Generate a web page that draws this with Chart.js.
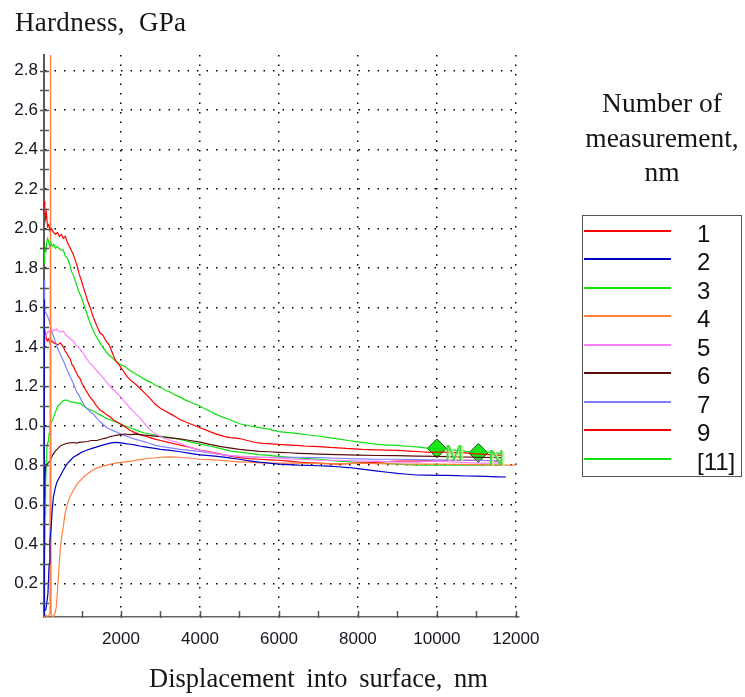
<!DOCTYPE html>
<html>
<head>
<meta charset="utf-8">
<title>Hardness vs displacement</title>
<script src="https://cdn.jsdelivr.net/npm/chart.js@4"></script>
<style>
  html, body { margin: 0; padding: 0; background: #fff; }
  #wrap { position: relative; width: 745px; height: 697px; overflow: hidden; }
  #myChart { position: absolute; left: 0; top: 0; }
  .txt { position: absolute; color: #161616; font-family: "Liberation Serif", "Times New Roman", serif; white-space: nowrap; }
  #ytitle { left: 15px; top: 9px; font-size: 27px; line-height: 27px; word-spacing: 7px; letter-spacing: 0.3px; }
  #xtitle { left: 149px; top: 665px; font-size: 26.5px; line-height: 26.5px; word-spacing: 5px; }
  #legtitle { left: 582px; width: 160px; top: 86px; text-align: center; font-size: 27.5px; line-height: 34.5px; }
  #legend { position: absolute; left: 582px; top: 215px; width: 160px; height: 262px; border: 1.5px solid #555; box-sizing: border-box; }
  #legend .row { position: absolute; left: 0; height: 0; }
  #legend .swatch { position: absolute; left: 0.5px; top: -1px; width: 87px; height: 2px; }
  #legend .lab { position: absolute; left: 114px; top: -11px; font: 24px "Liberation Sans", Arial, sans-serif; line-height: 28px; color: #111; }
</style>
</head>
<body>
<div id="wrap">
  <canvas id="myChart" width="745" height="697"></canvas>
  <div class="txt" id="ytitle">Hardness, GPa</div>
  <div class="txt" id="xtitle">Displacement into surface, nm</div>
  <div class="txt" id="legtitle">Number of<br>measurement,<br>nm</div>
  <div id="legend"></div>
</div>
<script>
// legend entries and colours
const seriesNames = ["1", "2", "3", "4", "5", "6", "7", "9", "[11]"];
const seriesColors = ["#ff0000", "#0000c8", "#10e010", "#ff8040", "#ff80ff", "#5a0c0c", "#8080ff", "#ff0000", "#10e010"];

// axis ticks
const xTicks = [1000, 2000, 3000, 4000, 5000, 6000, 7000, 8000, 9000, 10000, 11000, 12000];
const yTicks = [0.1, 0.2, 0.3, 0.4, 0.5, 0.6, 0.7, 0.8, 0.9, 1.0, 1.1, 1.2, 1.3, 1.4,
  1.5, 1.6, 1.7, 1.8, 1.9, 2.0, 2.1, 2.2, 2.3, 2.4, 2.5, 2.6, 2.7, 2.8];

// [displacement nm, hardness GPa]
const hard1 = [[50,2.14],[70,2.10],[90,2.05],[110,2.08],[140,2.01],[170,2.02],[200,1.99],[240,2.00],[290,1.98],[340,1.97],[390,1.98],[440,1.96],[490,1.97],[540,1.95],[590,1.96],[640,1.93],[690,1.91],[740,1.89],[790,1.87],[840,1.84],[890,1.81],[940,1.77],[990,1.74],[1050,1.70],[1100,1.67],[1160,1.63],[1220,1.60],[1280,1.56],[1340,1.53],[1400,1.50],[1470,1.47],[1540,1.46],[1620,1.43],[1700,1.41],[1780,1.37],[1860,1.33],[1950,1.31],[2050,1.28],[2150,1.25],[2250,1.23],[2370,1.21],[2480,1.19],[2600,1.165],[2730,1.14],[2860,1.11],[2990,1.09],[3120,1.075],[3250,1.06],[3380,1.045],[3500,1.03],[3630,1.02],[3750,1.01],[3880,1.0],[4000,0.99],[4130,0.98],[4250,0.97],[4380,0.96],[4500,0.952],[4630,0.945],[4760,0.94],[4900,0.937],[5010,0.935],[5200,0.925],[5400,0.915],[5600,0.91],[5800,0.908],[6000,0.905],[6200,0.903],[6450,0.90],[6700,0.896],[6900,0.895],[7100,0.893],[7300,0.89],[7500,0.888],[7700,0.885],[7900,0.883],[8100,0.88],[8300,0.879],[8500,0.878],[8750,0.876],[9000,0.875],[9200,0.872],[9400,0.87],[9600,0.868],[9800,0.865],[10000,0.866],[10200,0.866],[10450,0.864],[10700,0.862],[10950,0.858],[11200,0.855],[11450,0.852],[11650,0.85]];
const hard2 = [[50,0.04],[55,1.64],[62,0.06],[100,0.07],[150,0.15],[180,0.30],[200,0.42],[230,0.48],[260,0.58],[290,0.64],[330,0.68],[370,0.71],[420,0.73],[460,0.745],[500,0.76],[540,0.775],[600,0.795],[650,0.81],[720,0.825],[790,0.84],[860,0.848],[930,0.856],[1000,0.865],[1080,0.872],[1160,0.878],[1250,0.884],[1350,0.89],[1470,0.898],[1560,0.903],[1650,0.908],[1750,0.913],[1850,0.916],[1950,0.914],[2050,0.912],[2150,0.908],[2250,0.906],[2370,0.902],[2480,0.897],[2600,0.893],[2730,0.889],[2860,0.885],[3000,0.88],[3250,0.875],[3500,0.868],[3750,0.86],[4000,0.852],[4250,0.848],[4500,0.843],[4750,0.837],[5000,0.83],[5250,0.822],[5500,0.815],[5750,0.81],[6000,0.805],[6250,0.803],[6500,0.80],[6750,0.799],[7000,0.797],[7250,0.795],[7500,0.792],[7750,0.788],[8000,0.782],[8250,0.776],[8500,0.77],[8750,0.764],[9000,0.758],[9250,0.754],[9500,0.75],[9750,0.749],[10000,0.748],[10250,0.748],[10500,0.747],[10750,0.745],[11000,0.744],[11250,0.743],[11500,0.741],[11750,0.74]];
const hard3 = [[50,1.82],[65,1.87],[80,1.90],[100,1.88],[120,1.93],[140,1.95],[160,1.94],[190,1.91],[220,1.93],[260,1.91],[300,1.92],[340,1.90],[380,1.91],[430,1.90],[480,1.89],[540,1.89],[590,1.86],[640,1.85],[700,1.82],[750,1.78],[800,1.76],[850,1.73],[900,1.70],[950,1.67],[1000,1.65],[1050,1.62],[1100,1.59],[1150,1.56],[1220,1.52],[1300,1.48],[1380,1.45],[1470,1.42],[1550,1.395],[1640,1.37],[1720,1.355],[1800,1.34],[1900,1.325],[1975,1.31],[2100,1.30],[2230,1.28],[2350,1.265],[2480,1.25],[2600,1.235],[2750,1.22],[2870,1.205],[3000,1.195],[3120,1.18],[3250,1.17],[3380,1.155],[3500,1.145],[3630,1.13],[3750,1.12],[3880,1.11],[4000,1.10],[4130,1.085],[4250,1.075],[4380,1.06],[4500,1.05],[4630,1.04],[4760,1.03],[4880,1.02],[5000,1.01],[5250,1.0],[5500,0.99],[5750,0.983],[6000,0.97],[6250,0.965],[6500,0.96],[6750,0.953],[7000,0.948],[7250,0.94],[7500,0.933],[7750,0.925],[8000,0.918],[8250,0.912],[8500,0.905],[8750,0.902],[9000,0.90],[9250,0.896],[9500,0.893],[9750,0.886],[10000,0.885],[10250,0.88],[10500,0.875],[10750,0.87],[11000,0.868],[11250,0.866],[11500,0.862],[11650,0.86]];
const hard4 = [[50,0.03],[100,0.04],[150,0.03],[200,0.05],[215,3.2],[230,0.04],[280,0.03],[330,0.05],[360,0.08],[390,0.16],[410,0.22],[440,0.31],[460,0.37],[500,0.44],[540,0.49],[580,0.55],[625,0.59],[670,0.62],[720,0.645],[790,0.67],[870,0.70],[960,0.72],[1080,0.745],[1215,0.765],[1330,0.78],[1450,0.79],[1640,0.80],[1850,0.81],[2060,0.815],[2250,0.82],[2480,0.828],[2730,0.835],[3000,0.84],[3250,0.842],[3500,0.84],[3750,0.835],[4000,0.83],[4250,0.828],[4500,0.825],[4750,0.82],[5000,0.817],[5250,0.815],[5500,0.812],[6000,0.81],[6500,0.81],[7000,0.808],[7500,0.807],[8000,0.81],[8500,0.808],[9000,0.806],[9500,0.805],[10000,0.805],[10500,0.804],[11000,0.803],[11500,0.80],[12000,0.80]];
const hard5 = [[50,1.40],[70,1.44],[100,1.46],[130,1.47],[160,1.48],[200,1.47],[250,1.49],[300,1.48],[370,1.49],[420,1.48],[480,1.475],[540,1.48],[600,1.46],[660,1.45],[720,1.44],[790,1.43],[860,1.41],[960,1.39],[1050,1.365],[1130,1.34],[1200,1.32],[1300,1.30],[1380,1.28],[1470,1.26],[1560,1.24],[1640,1.22],[1720,1.20],[1850,1.175],[1975,1.15],[2100,1.12],[2230,1.09],[2350,1.065],[2480,1.04],[2600,1.01],[2730,0.98],[2860,0.96],[2990,0.945],[3120,0.935],[3250,0.925],[3380,0.918],[3500,0.91],[3750,0.89],[4000,0.875],[4250,0.865],[4500,0.855],[4750,0.85],[5000,0.845],[5250,0.842],[5500,0.84],[5750,0.838],[6000,0.835],[6250,0.832],[6500,0.83],[6750,0.828],[7000,0.825],[7500,0.825],[8000,0.82],[8500,0.82],[9000,0.815],[9500,0.815],[10000,0.82],[10500,0.815],[11000,0.81],[11650,0.81]];
const hard6 = [[50,0.64],[70,0.72],[90,0.79],[120,0.80],[150,0.81],[200,0.82],[240,0.84],[280,0.855],[330,0.87],[380,0.88],[430,0.89],[480,0.90],[550,0.905],[620,0.91],[700,0.913],[790,0.915],[880,0.912],[960,0.917],[1050,0.918],[1150,0.92],[1250,0.925],[1385,0.925],[1470,0.93],[1560,0.935],[1640,0.938],[1720,0.945],[1800,0.948],[1900,0.952],[2000,0.955],[2100,0.958],[2230,0.955],[2350,0.957],[2480,0.955],[2600,0.952],[2730,0.95],[2860,0.947],[3000,0.944],[3250,0.938],[3490,0.933],[3750,0.925],[4000,0.917],[4250,0.905],[4500,0.895],[4660,0.89],[5000,0.88],[5250,0.875],[5500,0.87],[5750,0.868],[6000,0.865],[6250,0.863],[6500,0.86],[6750,0.858],[7000,0.856],[7500,0.853],[8000,0.851],[8500,0.849],[9000,0.848],[9500,0.846],[10000,0.845],[10500,0.842],[11000,0.84],[11650,0.838]];
const hard7 = [[50,1.74],[60,1.62],[75,1.58],[100,1.57],[130,1.56],[170,1.54],[200,1.52],[230,1.49],[260,1.47],[300,1.45],[330,1.43],[380,1.40],[420,1.38],[480,1.355],[540,1.33],[580,1.31],[620,1.29],[670,1.27],[710,1.25],[760,1.23],[800,1.21],[840,1.19],[880,1.17],[920,1.16],[960,1.145],[1010,1.125],[1050,1.11],[1100,1.095],[1150,1.085],[1220,1.07],[1300,1.06],[1380,1.04],[1470,1.02],[1560,1.005],[1640,0.99],[1720,0.982],[1800,0.975],[1900,0.967],[1975,0.96],[2100,0.95],[2230,0.94],[2350,0.932],[2480,0.925],[2600,0.918],[2730,0.91],[2860,0.902],[3000,0.895],[3250,0.888],[3490,0.88],[3750,0.875],[4000,0.87],[4250,0.862],[4500,0.855],[4750,0.848],[5000,0.845],[5250,0.843],[5500,0.84],[5750,0.84],[6000,0.84],[6500,0.84],[7000,0.838],[7500,0.835],[8000,0.832],[8500,0.83],[9000,0.83],[9500,0.828],[10000,0.826],[10500,0.825],[11000,0.825],[11650,0.822]];
const hard9 = [[50,1.49],[65,1.44],[80,1.47],[100,1.45],[130,1.43],[160,1.44],[200,1.42],[250,1.43],[300,1.42],[350,1.415],[400,1.41],[460,1.42],[540,1.40],[580,1.38],[620,1.37],[670,1.35],[710,1.34],[760,1.31],[800,1.30],[840,1.28],[880,1.265],[920,1.25],[960,1.24],[1010,1.215],[1050,1.20],[1110,1.18],[1170,1.16],[1215,1.145],[1300,1.125],[1380,1.10],[1470,1.08],[1550,1.07],[1640,1.055],[1720,1.045],[1800,1.03],[1890,1.02],[1975,1.01],[2100,0.995],[2230,0.977],[2350,0.965],[2480,0.955],[2600,0.948],[2730,0.94],[2860,0.932],[3000,0.925],[3150,0.918],[3320,0.91],[3500,0.902],[3750,0.89],[4000,0.877],[4250,0.867],[4500,0.857],[4660,0.85],[5000,0.838],[5250,0.833],[5500,0.83],[5750,0.827],[6000,0.825],[6250,0.82],[6500,0.815],[6750,0.812],[7000,0.81],[7500,0.805],[8000,0.81],[8500,0.815],[9000,0.82],[9500,0.82],[10000,0.825],[10500,0.825],[11000,0.825],[11650,0.82]];
const hard11 = [[50,0.03],[60,0.08],[70,0.30],[80,0.55],[90,0.70],[105,0.82],[120,0.88],[140,0.91],[160,0.92],[180,0.96],[200,1.00],[240,1.02],[290,1.04],[340,1.07],[400,1.10],[460,1.11],[520,1.125],[580,1.13],[625,1.13],[680,1.125],[740,1.12],[800,1.12],[880,1.115],[960,1.115],[1050,1.10],[1130,1.09],[1215,1.08],[1300,1.075],[1380,1.065],[1470,1.055],[1560,1.045],[1640,1.035],[1720,1.03],[1850,1.02],[1975,1.01],[2100,1.0],[2230,0.99],[2350,0.98],[2480,0.97],[2600,0.963],[2730,0.958],[2860,0.953],[2990,0.948],[3250,0.94],[3500,0.93],[3750,0.918],[4000,0.907],[4250,0.897],[4500,0.885],[4810,0.87],[5000,0.866],[5250,0.86],[5500,0.853],[5750,0.85],[6000,0.845],[6250,0.84],[6500,0.835],[6750,0.833],[7000,0.83],[7500,0.82],[8000,0.815],[8500,0.81],[9000,0.805],[9500,0.80],[10000,0.80],[10500,0.80],[11000,0.80],[11650,0.80]];

// averaging range markers on curve 3
const markerPoints = [[10000, 0.885], [11050, 0.862]];
const markerLabels = ["M", "N"];

const allSeries = [hard1, hard2, hard3, hard4, hard5, hard6, hard7, hard9, hard11];

const isMajorY = (v) => Math.round(v * 10) % 2 === 0;
const isMajorX = (v) => Math.round(v) % 2000 === 0;

// short tick marks across the axes + M / N labels
const extras = {
  id: "extras",
  afterDraw(chart) {
    const { ctx, chartArea, scales } = chart;
    ctx.save();
    ctx.strokeStyle = "#555";
    ctx.lineWidth = 1.5;
    ctx.beginPath();
    scales.x.ticks.forEach((t) => {
      const px = Math.round(scales.x.getPixelForValue(t.value)) + 0.5;
      ctx.moveTo(px, chartArea.bottom + 1);
      ctx.lineTo(px, chartArea.bottom - 6);
    });
    scales.y.ticks.forEach((t) => {
      const py = Math.round(scales.y.getPixelForValue(t.value)) + 0.5;
      ctx.moveTo(chartArea.left - 4, py);
      ctx.lineTo(chartArea.left + 5, py);
    });
    ctx.stroke();

    const meta = chart.getDatasetMeta(allSeries.length);
    ctx.font = "22px 'Liberation Sans', Arial, sans-serif";
    ctx.textBaseline = "middle";
    meta.data.forEach((pt, i) => {
      const dx = i === 0 ? 8 : 10;
      ctx.fillStyle = "rgba(190,245,150,0.9)";
      ctx.fillText(markerLabels[i], pt.x + dx + 2, pt.y + 7);
      ctx.fillStyle = "#3ed83e";
      ctx.fillText(markerLabels[i], pt.x + dx, pt.y + 6);
    });
    ctx.restore();
  },
};

const datasets = allSeries.map((s, i) => ({
  label: seriesNames[i],
  data: s.map((p) => ({ x: p[0], y: p[1] })),
  borderColor: seriesColors[i],
  borderWidth: 1.2,
  pointRadius: 0,
  showLine: true,
  fill: false,
  tension: 0,
}));

datasets.push({
  label: "markers",
  data: markerPoints.map((p) => ({ x: p[0], y: p[1] })),
  showLine: false,
  pointStyle: "rectRot",
  pointRadius: 9.5,
  backgroundColor: "#18e818",
  borderColor: "#145014",
  borderWidth: 1,
});

const tickFont = { family: "'Liberation Sans', Arial, sans-serif", size: 17 };

new Chart(document.getElementById("myChart"), {
  type: "scatter",
  data: { datasets },
  options: {
    responsive: false,
    animation: false,
    devicePixelRatio: 1,
    layout: { padding: { left: 0, top: 55, right: 226, bottom: 0 } },
    plugins: { legend: { display: false }, tooltip: { enabled: false } },
    scales: {
      x: {
        type: "linear",
        min: 50,
        max: 12080,
        afterBuildTicks: (s) => { s.ticks = xTicks.map((v) => ({ value: v })); },
        afterFit: (s) => { s.height = 80; },
        ticks: {
          autoSkip: false,
          maxRotation: 0,
          padding: 12,
          color: "#151520",
          font: tickFont,
          callback: (v) => (isMajorX(v) ? String(v) : ""),
        },
        grid: {
          drawTicks: false,
          lineWidth: 1.5,
          color: (c) => (c.tick && isMajorX(c.tick.value) ? "#000" : "rgba(0,0,0,0)"),
        },
        border: { display: true, color: "#666", width: 1.5, dash: [1.5, 8] },
      },
      y: {
        type: "linear",
        min: 0.03,
        max: 2.88,
        afterBuildTicks: (s) => { s.ticks = yTicks.map((v) => ({ value: v })); },
        afterFit: (s) => { s.width = 44; },
        ticks: {
          autoSkip: false,
          padding: 6,
          color: "#151520",
          font: tickFont,
          callback: (v) => (isMajorY(v) ? v.toFixed(1) : ""),
        },
        grid: {
          drawTicks: false,
          lineWidth: 1.5,
          color: (c) => (c.tick && isMajorY(c.tick.value) ? "#000" : "rgba(0,0,0,0)"),
        },
        border: { display: true, color: "#5a5a5a", width: 2, dash: [1.5, 8] },
      },
    },
  },
  plugins: [extras],
});

// legend box on the right, built from the same names and colours
const legendBox = document.getElementById("legend");
seriesNames.forEach((name, i) => {
  const row = document.createElement("div");
  row.className = "row";
  row.style.top = (14.5 + i * 28.5) + "px";
  const sw = document.createElement("div");
  sw.className = "swatch";
  sw.style.background = seriesColors[i];
  const lab = document.createElement("span");
  lab.className = "lab";
  lab.textContent = name;
  row.appendChild(sw);
  row.appendChild(lab);
  legendBox.appendChild(row);
});
</script>
</body>
</html>
